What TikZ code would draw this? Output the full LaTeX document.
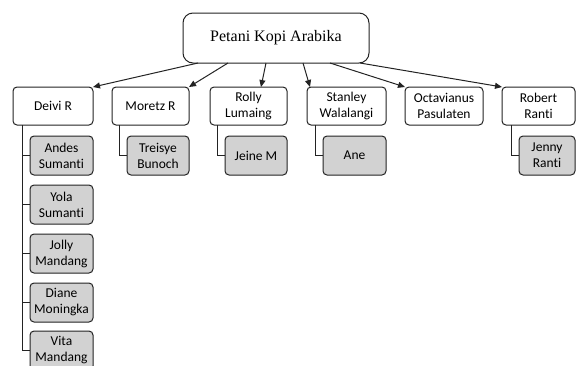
\documentclass[tikz,border=0pt]{standalone}
\usepackage{fontspec}
\setmainfont[Ligatures=NoCommon]{Carlito}
\newfontfamily\rootfont{Liberation Serif}
\usetikzlibrary{arrows.meta,calc}
\definecolor{boxgray}{RGB}{210,210,210}
\definecolor{edgecol}{RGB}{35,35,35}
\begin{document}
\begin{tikzpicture}[x=1pt,y=-1pt,
  every node/.style={inner sep=0pt,outer sep=0pt},
  rootbox/.style={draw=edgecol,line width=1pt,rounded corners=10pt,fill=white,
    minimum width=186pt,minimum height=50pt,anchor=north west,
    font=\rootfont\fontsize{16}{19}\selectfont},
  lvlbox/.style={draw=edgecol,line width=1pt,rounded corners=4pt,fill=white,
    minimum height=38pt,anchor=north west,align=center,
    font=\fontsize{13.5}{16}\selectfont},
  kidbox/.style={draw=edgecol,line width=1pt,rounded corners=4pt,fill=boxgray,
    minimum height=39pt,anchor=north west,align=center,
    font=\fontsize{13.5}{16}\selectfont},
  arr/.style={draw=edgecol,line width=1pt,-{Triangle[length=7pt,width=6pt]}},
  lnk/.style={draw=edgecol,line width=1pt}
]
\useasboundingbox (0,0) rectangle (576,365);

\node[rootbox] (root) at (183,13) {Petani Kopi Arabika};

\node[lvlbox,minimum width=80pt] (deivi) at (13,87) {Deivi R};
\node[lvlbox,minimum width=77pt] (moretz) at (112,87) {Moretz R};
\node[lvlbox,minimum width=77pt] (rolly) at (210,87) {Rolly\\Lumaing};
\node[lvlbox,minimum width=79pt] (stanley) at (307,87) {Stanley\\Walalangi};
\node[lvlbox,minimum width=78pt] (octa) at (405,87) {Octavianus\\Pasulaten};
\node[lvlbox,minimum width=73pt] (robert) at (502,87) {Robert\\Ranti};

\node[kidbox,minimum width=63pt] (andes) at (30,136) {Andes\\Sumanti};
\node[kidbox,minimum width=63pt] (yola) at (30,185) {Yola\\Sumanti};
\node[kidbox,minimum width=63pt] (jolly) at (30,234) {Jolly\\Mandang};
\node[kidbox,minimum width=63pt] (diane) at (30,283) {Diane\\Moningka};
\node[kidbox,minimum width=63pt] (vita) at (30,331) {Vita\\Mandang};

\node[kidbox,minimum width=62pt] (treisye) at (127,136) {Treisye\\Bunoch};
\node[kidbox,minimum width=62pt] (jeine) at (225,136) {Jeine M};
\node[kidbox,minimum width=63pt] (ane) at (323,136) {Ane};
\node[kidbox,minimum width=56pt] (jenny) at (519,136) {Jenny\\Ranti};

% arrows from root
\draw[arr] ([xshift=15pt]root.south west) -- (deivi.north east);
\draw[arr] ([xshift=45pt]root.south west) -- (moretz.north east);
\draw[arr] ([xshift=83pt]root.south west) -- ([xshift=-26pt]rolly.north east);
\draw[arr] ([xshift=120pt]root.south west) -- ([xshift=3pt]stanley.north west);
\draw[arr] ([xshift=147pt]root.south west) -- (octa.north west);
\draw[arr] ([xshift=177pt]root.south west) -- (robert.north west);

% child links
\foreach \k in {andes,yola,jolly,diane,vita}
  \draw[lnk] ([xshift=9pt]deivi.south west) |- (\k.west);
\draw[lnk] ([xshift=7pt]moretz.south west) |- (treisye.west);
\draw[lnk] ([xshift=7pt]rolly.south west) |- (jeine.west);
\draw[lnk] ([xshift=8pt]stanley.south west) |- (ane.west);
\draw[lnk] ([xshift=9pt]robert.south west) |- (jenny.west);
\end{tikzpicture}
\end{document}
